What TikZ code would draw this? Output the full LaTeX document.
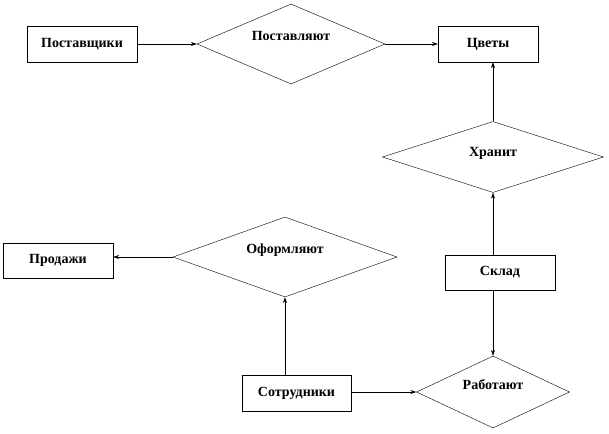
\documentclass[tikz,border=0pt]{standalone}
\usepackage{fontspec}
\setmainfont{Liberation Serif}
\usetikzlibrary{shapes.geometric,arrows.meta}
\begin{document}
\begin{tikzpicture}[x=1pt,y=-1pt,
    entity/.style={draw,inner sep=0pt,minimum width=110pt,minimum height=36pt,font=\bfseries\fontsize{14}{16}\selectfont},
    relation/.style={draw,diamond,inner sep=0pt},
    rlabel/.style={font=\bfseries\fontsize{14}{16}\selectfont},
    link/.style={-{Stealth[length=6pt,width=4pt]},line width=0.6pt}]
    \useasboundingbox (0,0) rectangle (609,433);
    \node[entity] (supp) at (82,44) {Поставщики};
    \node[entity,minimum width=100pt] (flow) at (488,44) {Цветы};
    \node[entity,minimum height=35pt] (sales) at (58,260.5) {Продажи};
    \node[entity,minimum height=35pt] (depot) at (500,272.5) {Склад};
    \node[entity,minimum width=109pt] (staff) at (296.5,393) {Сотрудники};
    \node[relation,minimum width=188pt,minimum height=80pt] (supply) at (291,44) {};
    \node[rlabel] (supplyt) at (291,36) {Поставляют};
    \node[relation,minimum width=221pt,minimum height=71pt] (keep) at (493,157) {};
    \node[rlabel] (keept) at (493,153) {Хранит};
    \node[relation,minimum width=224pt,minimum height=80pt] (issue) at (285,257) {};
    \node[rlabel] (issuet) at (285,250) {Оформляют};
    \node[relation,minimum width=153pt,minimum height=72pt] (work) at (493,392) {};
    \node[rlabel] (workt) at (493,385) {Работают};
    \draw[link] (supp.east) -- (supply.west);
    \draw[link] (supply.east) -- (flow.west);
    \draw[link] (keep.north) -- (keep.north |- flow.south);
    \draw[link] (keep.south |- depot.north) -- (keep.south);
    \draw[link] (work.north |- depot.south) -- (work.north);
    \draw[link] (staff.east |- work.west) -- (work.west);
    \draw[link] (issue.south |- staff.north) -- (issue.south);
    \draw[link] (issue.west) -- (issue.west -| sales.east);
\end{tikzpicture}
\end{document}
